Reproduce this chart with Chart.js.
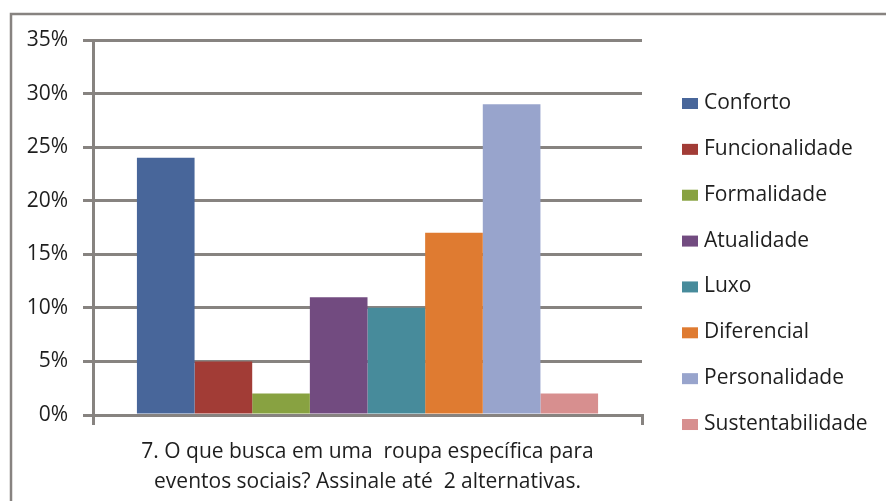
<!DOCTYPE html>
<html>
<head>
<meta charset="utf-8">
<script src="https://cdn.jsdelivr.net/npm/chart.js@4/dist/chart.umd.min.js"></script>
<style>
  html, body { margin: 0; padding: 0; background: #fff; }
  #wrap { width: 886px; height: 501px; }
</style>
</head>
<body>
<div id="wrap"><canvas id="chart" width="886" height="501"></canvas></div>
<script>
const categories = [""];
const seriesNames = ["Conforto", "Funcionalidade", "Formalidade", "Atualidade", "Luxo", "Diferencial", "Personalidade", "Sustentabilidade"];
const seriesValues = [24, 5, 2, 11, 10, 17, 29, 2];
const seriesColors = ["#48669a", "#a23c36", "#88a241", "#724b80", "#478b9b", "#df7b31", "#98a4cc", "#d78f8f"];
const axisTitle = ["7. O que busca em uma  roupa específica para", "eventos sociais? Assinale até  2 alternativas."];

const FONT = "'Open Sans', 'Noto Sans', sans-serif";
const LINE = "#878380";
const INK = "#1e1e1e";

// grey frame around the whole chart
const frame = {
  id: "frame",
  beforeDraw(chart) {
    const ctx = chart.ctx;
    ctx.save();
    ctx.fillStyle = "#ffffff";
    ctx.fillRect(0, 0, chart.width, chart.height);
    ctx.strokeStyle = LINE;
    ctx.lineWidth = 2.5;
    ctx.strokeRect(11, 14, chart.width + 20, chart.height + 20);
    ctx.restore();
  }
};

// legend drawn on the right, one entry per dataset
const sideLegend = {
  id: "sideLegend",
  afterDraw(chart) {
    const ctx = chart.ctx;
    ctx.save();
    ctx.font = "21px " + FONT;
    ctx.textBaseline = "alphabetic";
    chart.data.datasets.forEach((ds, i) => {
      const base = 109 + i * 45.86;
      ctx.fillStyle = ds.backgroundColor;
      ctx.fillRect(682, base - 11, 16, 11);
      ctx.fillStyle = INK;
      ctx.fillText(ds.label, 704, base);
    });
    ctx.restore();
  }
};

const datasets = seriesNames.map((name, i) => ({
  label: name,
  data: [seriesValues[i]],
  backgroundColor: seriesColors[i],
  borderWidth: 0,
  categoryPercentage: 0.84,
  barPercentage: 1
}));

new Chart(document.getElementById("chart"), {
  type: "bar",
  data: { labels: categories, datasets: datasets },
  plugins: [frame, sideLegend],
  options: {
    responsive: false,
    animation: false,
    layout: { padding: { left: 10, right: 244, top: 40, bottom: 0 } },
    plugins: {
      legend: { display: false },
      tooltip: { enabled: false }
    },
    scales: {
      x: {
        afterFit(scale) { scale.height = 86; },
        grid: {
          offset: true,
          drawOnChartArea: false,
          drawTicks: true,
          tickLength: 10,
          color: LINE,
          lineWidth: 3
        },
        border: { display: true, color: LINE, width: 3 },
        ticks: { display: false },
        title: {
          display: true,
          text: axisTitle,
          color: INK,
          font: { family: FONT, size: 21, lineHeight: "30px" },
          padding: { top: 0, bottom: 4 }
        }
      },
      y: {
        min: 0,
        max: 35,
        afterFit(scale) { scale.width = 83; },
        ticks: {
          stepSize: 5,
          padding: 15,
          color: INK,
          font: { family: FONT, size: 21 },
          callback: v => v + "%"
        },
        grid: {
          color: LINE,
          lineWidth: 3,
          tickLength: 10
        },
        border: { display: true, color: LINE, width: 3 }
      }
    }
  }
});
</script>
</body>
</html>
